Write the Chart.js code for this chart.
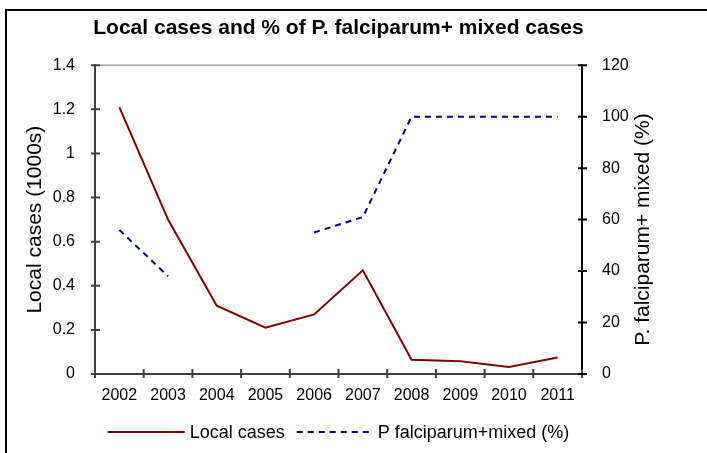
<!DOCTYPE html>
<html>
<head>
<meta charset="utf-8">
<script src="https://cdn.jsdelivr.net/npm/chart.js@4"></script>
<style>
  html, body { margin: 0; padding: 0; background: #fff; }
</style>
</head>
<body>
<canvas id="chart" width="707" height="453"></canvas>
<script>
// values
const years = ["2002", "2003", "2004", "2005", "2006", "2007", "2008", "2009", "2010", "2011"];
const localCases = [1.21, 0.70, 0.31, 0.21, 0.27, 0.47, 0.065, 0.058, 0.032, 0.075];
const pctFalciparum = [56, 38, null, null, 55, 61, 100, 100, 100, 100];

const FONT = "Arial, 'Liberation Sans', sans-serif";
const RIGHT_TITLE = "P. falciparum+ mixed (%)";

// frame, grey top line, cross ticks, right axis title and the legend
const decorations = {
  id: "decorations",
  beforeDraw(chart) {
    const ctx = chart.ctx;
    ctx.save();
    ctx.strokeStyle = "#000";
    ctx.lineWidth = 2;
    ctx.beginPath();
    ctx.moveTo(6, 453);
    ctx.lineTo(6, 10);
    ctx.lineTo(707, 10);
    ctx.stroke();
    ctx.restore();
  },
  afterDraw(chart) {
    const ctx = chart.ctx;
    const area = chart.chartArea;
    const x = chart.scales.x, y = chart.scales.y, y1 = chart.scales.y1;
    ctx.save();
    ctx.strokeStyle = "#a0a0a0";
    ctx.lineWidth = 1.5;
    ctx.beginPath();
    ctx.moveTo(area.left, area.top);
    ctx.lineTo(area.right, area.top);
    ctx.stroke();

    ctx.lineWidth = 2;
    ctx.strokeStyle = "#404040";
    ctx.beginPath();
    y.ticks.forEach(t => {
      const py = y.getPixelForValue(t.value);
      ctx.moveTo(area.left - 4, py);
      ctx.lineTo(area.left + 5, py);
    });
    for (let i = 0; i <= years.length; i++) {
      const px = x.getPixelForValue(i - 0.5);
      ctx.moveTo(px, area.bottom - 5);
      ctx.lineTo(px, area.bottom + 4);
    }
    ctx.stroke();

    ctx.strokeStyle = "#000";
    ctx.beginPath();
    y1.ticks.forEach(t => {
      const py = y1.getPixelForValue(t.value);
      ctx.moveTo(area.right - 4, py);
      ctx.lineTo(area.right + 5, py);
    });
    ctx.stroke();

    // right axis title, reading bottom to top
    ctx.fillStyle = "#000";
    ctx.font = "21px " + FONT;
    ctx.textAlign = "center";
    ctx.textBaseline = "middle";
    ctx.translate(y1.right - 34, (area.top + area.bottom) / 2 + 10);
    ctx.rotate(-Math.PI / 2);
    ctx.fillText(RIGHT_TITLE, 0, 0);
    ctx.setTransform(1, 0, 0, 1, 0, 0);

    // legend
    ctx.font = "18px " + FONT;
    ctx.textAlign = "left";
    const sets = chart.data.datasets;
    const lineW = [77, 75], gapText = [5, 6], gapItem = 12;
    const widths = sets.map((d, i) => lineW[i] + gapText[i] + ctx.measureText(d.label).width);
    const total = widths[0] + gapItem + widths[1];
    let lx = (area.left + area.right) / 2 - total / 2;
    const ly = 432;
    sets.forEach((d, i) => {
      ctx.strokeStyle = d.borderColor;
      ctx.lineWidth = d.borderWidth;
      ctx.setLineDash(d.borderDash || []);
      ctx.beginPath();
      ctx.moveTo(lx, ly);
      ctx.lineTo(lx + lineW[i], ly);
      ctx.stroke();
      ctx.setLineDash([]);
      ctx.fillText(d.label, lx + lineW[i] + gapText[i], ly + 1);
      lx += widths[i] + gapItem;
    });
    ctx.restore();
  }
};

new Chart(document.getElementById("chart"), {
  type: "line",
  data: {
    labels: years,
    datasets: [
      {
        label: "Local cases",
        data: localCases,
        yAxisID: "y",
        borderColor: "#800000",
        backgroundColor: "#800000",
        borderWidth: 2,
        pointRadius: 0,
        tension: 0
      },
      {
        label: "P falciparum+mixed (%)",
        data: pctFalciparum,
        yAxisID: "y1",
        borderColor: "#000080",
        backgroundColor: "#000080",
        borderWidth: 2,
        borderDash: [6, 5],
        pointRadius: 0,
        spanGaps: false,
        tension: 0
      }
    ]
  },
  options: {
    responsive: false,
    animation: false,
    devicePixelRatio: 1,
    layout: { padding: { left: 0, right: 30, top: 0, bottom: 39 } },
    plugins: {
      title: {
        display: true,
        text: "Local cases and % of P. falciparum+ mixed cases",
        color: "#000",
        font: { family: FONT, size: 21, weight: "bold" },
        padding: { top: 16, bottom: 24 }
      },
      legend: { display: false },
      tooltip: { enabled: false }
    },
    scales: {
      x: {
        offset: true,
        grid: { display: false },
        border: { display: true, color: "#404040", width: 2 },
        ticks: { color: "#000", font: { family: FONT, size: 16 }, padding: 4, maxRotation: 0, autoSkip: false },
        afterFit(s) { s.height = 40; }
      },
      y: {
        position: "left",
        min: 0,
        max: 1.4,
        grid: { display: false },
        border: { display: true, color: "#404040", width: 2 },
        ticks: {
          stepSize: 0.2,
          color: "#000",
          font: { family: FONT, size: 16 },
          padding: 12,
          callback: v => String(+v.toFixed(1))
        },
        title: {
          display: true,
          text: "Local cases (1000s)",
          color: "#000",
          font: { family: FONT, size: 21 },
          padding: { top: 23, bottom: 23 }
        },
        afterFit(s) { s.width = 95; }
      },
      y1: {
        position: "right",
        min: 0,
        max: 120,
        grid: { display: false },
        border: { display: true, color: "#000", width: 2 },
        ticks: { stepSize: 20, color: "#000", font: { family: FONT, size: 16 }, padding: 12 },
        afterFit(s) { s.width = 95; }
      }
    }
  },
  plugins: [decorations]
});
</script>
</body>
</html>
